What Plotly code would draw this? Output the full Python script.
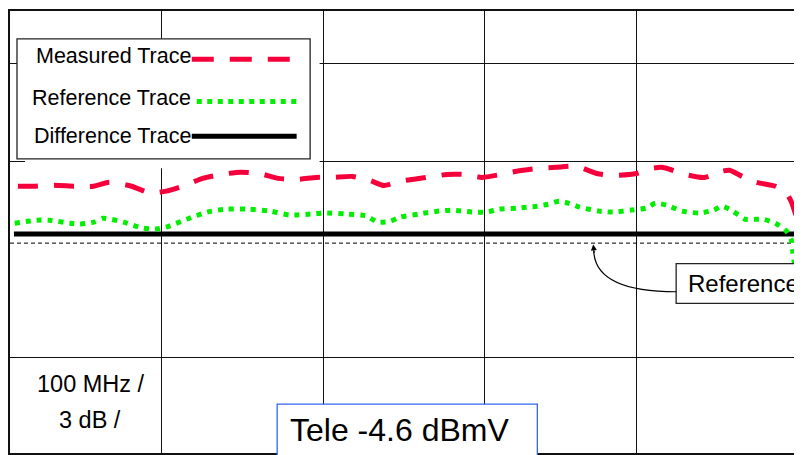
import plotly.graph_objects as go

# ---------------- data ----------------
# Measured trace: frequency (MHz) and level relative to reference (dB)
meas_freq = [5, 15, 28, 41, 53, 63, 77, 89, 99, 111, 122, 134, 146, 158, 170, 182,
             194, 204, 217, 228, 237, 247, 264, 277, 288, 299, 311, 321, 335, 346,
             359, 372, 383, 397, 407, 413, 418, 428, 440, 451, 456, 464, 473, 485,
             492, 495, 498]
meas_db = [1.74, 1.74, 1.77, 1.74, 1.74, 1.86, 1.74, 1.53, 1.59, 1.77, 1.98, 2.10,
           2.17, 2.13, 1.98, 1.95, 2.01, 2.01, 2.04, 1.92, 1.76, 1.89, 2.01, 2.10,
           2.10, 2.01, 2.10, 2.20, 2.29, 2.32, 2.35, 2.13, 2.07, 2.13, 2.29, 2.32,
           2.26, 2.10, 2.01, 2.20, 2.23, 2.04, 1.86, 1.74, 1.53, 1.28, 0.86]

# Reference trace
ref_freq = [3, 17, 25, 38, 44, 53, 59, 72, 84, 92, 99, 112, 125, 137, 151, 165,
            177, 191, 199, 213, 226, 233, 241, 247, 259, 272, 280, 293, 302, 310,
            321, 334, 341, 348, 354, 361, 373, 382, 394, 403, 409, 416, 426, 437,
            446, 451, 458, 466, 477, 485, 492, 495, 496, 497]
ref_db = [0.61, 0.70, 0.70, 0.61, 0.58, 0.64, 0.76, 0.64, 0.46, 0.43, 0.49, 0.73,
          0.95, 1.04, 1.04, 0.98, 0.86, 0.89, 0.92, 0.89, 0.83, 0.64, 0.67, 0.79,
          0.89, 0.98, 1.01, 0.95, 0.95, 1.04, 1.07, 1.13, 1.19, 1.28, 1.22, 1.10,
          0.98, 0.95, 1.01, 1.07, 1.22, 1.16, 0.98, 0.92, 1.01, 1.13, 0.98, 0.73,
          0.73, 0.61, 0.37, 0.12, -0.24, -0.61]

# Difference trace
diff_freq = [2.5, 100, 200, 300, 400, 498]
diff_db = [0.28, 0.28, 0.28, 0.28, 0.28, 0.28]

# Reference level line
level_freq = [0, 500]
level_db = [0, 0]

# Graticule
grid_freq = [96.2, 198.7, 300.6, 396.8]
grid_db = [-3.5, 2.5, 5.5]

legend_labels = ["Measured Trace", "Reference Trace", "Difference Trace"]
scale_labels = ["100 MHz /", "3 dB /"]
level_label = "Tele -4.6 dBmV"
callout_label = "Reference"

# ---------------- layout helpers ----------------
# the page puts the figure 8 px from the top-left corner of the window
OFF = 8
W, H = 802 - OFF, 455 - OFF
# plot area in window pixels
L, R, T, B = 10, 800, 9, 453


def px(x):
    return (x - L) / (R - L)


def py(y):
    return (B - y) / (B - T)


FONT = "Liberation Sans, Arial, sans-serif"
RED = "#F5003A"
GREEN = "#00EE00"

fig = go.Figure()

fig.add_trace(go.Scatter(x=level_freq, y=level_db, mode="lines",
                         line=dict(color="black", width=1, dash="4px,3px"),
                         hoverinfo="skip"))
fig.add_trace(go.Scatter(x=diff_freq, y=diff_db, mode="lines", name=legend_labels[2],
                         line=dict(color="black", width=5)))
fig.add_trace(go.Scatter(x=ref_freq, y=ref_db, mode="lines", name=legend_labels[1],
                         line=dict(color=GREEN, width=5, dash="5px,6px",
                                   shape="spline", smoothing=0.6)))
fig.add_trace(go.Scatter(x=meas_freq, y=meas_db, mode="lines", name=legend_labels[0],
                         line=dict(color=RED, width=5, dash="20px,16px",
                                   shape="spline", smoothing=0.6)))

shapes = []
# legend background + box
shapes.append(dict(type="rect", xref="paper", yref="paper", x0=px(25), x1=px(320),
                   y0=py(167), y1=py(37), fillcolor="white", line=dict(width=0)))
shapes.append(dict(type="rect", xref="paper", yref="paper", x0=px(17), x1=px(310.5),
                   y0=py(157.5), y1=py(37), fillcolor="white",
                   line=dict(color="#222", width=1.3)))
# legend samples
shapes.append(dict(type="line", xref="paper", yref="paper", x0=px(192), x1=px(291),
                   y0=py(57.5), y1=py(57.5), line=dict(color=RED, width=5, dash="22px,16px")))
shapes.append(dict(type="line", xref="paper", yref="paper", x0=px(197), x1=px(302),
                   y0=py(100), y1=py(100), line=dict(color=GREEN, width=5, dash="5px,5.5px")))
shapes.append(dict(type="line", xref="paper", yref="paper", x0=px(192), x1=px(297),
                   y0=py(134.7), y1=py(134.7), line=dict(color="black", width=5)))
# callout box
shapes.append(dict(type="rect", xref="paper", yref="paper", x0=px(677), x1=px(806),
                   y0=py(302.7), y1=py(262.7), fillcolor="white",
                   line=dict(color="#222", width=1.3)))
# curved callout arrow
shapes.append(dict(type="path", xref="paper", yref="paper",
                   path=f"M {px(677)},{py(291)} Q {px(596)},{py(291)} {px(594.5)},{py(250)}",
                   line=dict(color="black", width=1.2)))
# level box
shapes.append(dict(type="rect", xref="paper", yref="paper", x0=px(277.5), x1=px(538),
                   y0=py(457), y1=py(404), fillcolor="white",
                   line=dict(color="#3366EE", width=1.3)))

ann = []
for lab, yc in zip(legend_labels, [54, 96, 135]):
    ann.append(dict(xref="paper", yref="paper", x=px(193), y=py(yc), text=lab,
                    showarrow=False, xanchor="right", yanchor="middle",
                    font=dict(family=FONT, size=21.5, color="black")))
for lab, xc, yc in zip(scale_labels, [91.5, 90], [384, 420]):
    ann.append(dict(xref="paper", yref="paper", x=px(xc), y=py(yc), text=lab,
                    showarrow=False, xanchor="center", yanchor="middle",
                    font=dict(family=FONT, size=23.5, color="black")))
ann.append(dict(xref="paper", yref="paper", x=px(687), y=py(283), text=callout_label,
                showarrow=False, xanchor="left", yanchor="middle",
                font=dict(family=FONT, size=24, color="black")))
ann.append(dict(xref="paper", yref="paper", x=px(288), y=py(430), text=level_label,
                showarrow=False, xanchor="left", yanchor="middle",
                font=dict(family=FONT, size=32, color="black")))
# arrowhead of the callout
ann.append(dict(xref="paper", yref="paper", x=px(594), y=py(243.5), text="",
                showarrow=True, arrowhead=2, arrowsize=1, arrowwidth=1.2,
                arrowcolor="black", ax=1, ay=10, standoff=0))

fig.update_layout(
    width=W, height=H,
    margin=dict(l=L - OFF, r=802 - R, t=T - OFF, b=455 - B),
    paper_bgcolor="white", plot_bgcolor="white",
    showlegend=False,
    shapes=shapes, annotations=ann,
    xaxis=dict(range=[0, 500], tickvals=grid_freq, showticklabels=False, ticks="",
               showgrid=True, gridcolor="#111", gridwidth=1.2, zeroline=False,
               showline=True, mirror=True, linecolor="#111", linewidth=1.5),
    yaxis=dict(range=[-6.42, 7.10], tickvals=grid_db, showticklabels=False, ticks="",
               showgrid=True, gridcolor="#111", gridwidth=1.2, zeroline=False,
               showline=True, mirror=True, linecolor="#111", linewidth=1.5),
)

fig.write_html("out.html")
